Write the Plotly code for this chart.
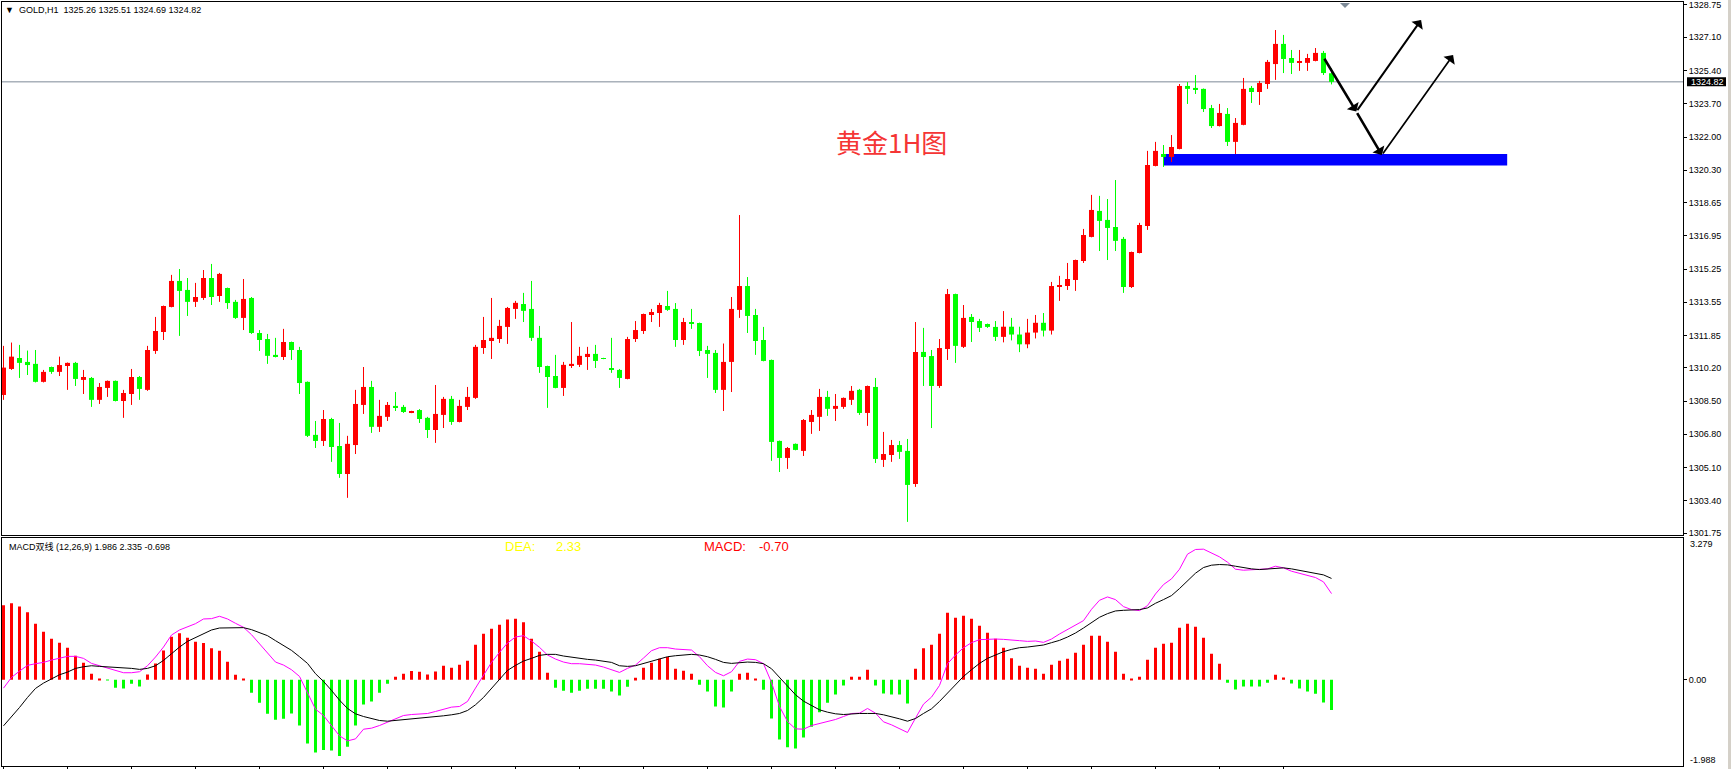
import plotly.graph_objects as go

# ---------------- data (GOLD, H1) ----------------
OPEN = [
    1308.81, 1310.14, 1310.70, 1310.50, 1310.40, 1309.48, 1310.24, 1309.99, 1310.29, 1310.45,
    1309.58, 1309.68, 1308.56, 1309.17, 1309.53, 1308.50, 1308.86, 1309.73, 1309.07, 1311.06,
    1312.03, 1313.31, 1314.64, 1314.18, 1313.57, 1313.77, 1314.79, 1313.87, 1314.28, 1313.57,
    1312.75, 1313.77, 1311.98, 1311.67, 1310.86, 1310.75, 1311.52, 1311.11, 1309.48, 1306.77,
    1306.46, 1307.58, 1306.20, 1304.77, 1306.25, 1308.30, 1309.22, 1307.18, 1307.69, 1308.25,
    1308.20, 1307.91, 1308.04, 1307.64, 1307.02, 1307.79, 1308.61, 1307.43, 1308.20, 1308.66,
    1311.21, 1311.57, 1311.67, 1312.29, 1313.21, 1313.46, 1313.21, 1311.73, 1310.29, 1309.78,
    1309.17, 1310.29, 1310.35, 1310.75, 1310.91, 1310.70, 1310.19, 1310.09, 1309.63, 1311.67,
    1312.08, 1312.90, 1313.00, 1313.36, 1313.21, 1311.62, 1312.54, 1312.49, 1311.11, 1310.96,
    1309.07, 1310.50, 1313.16, 1314.38, 1312.90, 1311.62, 1310.60, 1306.46, 1305.59, 1306.31,
    1305.95, 1307.43, 1307.69, 1308.71, 1308.10, 1308.20, 1308.56, 1309.07, 1307.89, 1309.22,
    1305.49, 1305.74, 1306.25, 1305.95, 1304.26, 1311.01, 1310.80, 1309.27, 1311.16, 1313.97,
    1311.27, 1312.80, 1312.59, 1312.44, 1312.29, 1311.78, 1312.30, 1311.90, 1311.40, 1312.00,
    1312.50, 1312.10, 1314.35, 1314.38, 1314.69, 1315.66, 1316.89, 1318.22, 1317.76, 1317.40,
    1316.79, 1314.33, 1316.07, 1317.45, 1320.52, 1321.13, 1320.98, 1321.39, 1324.61, 1324.51,
    1324.46, 1323.48, 1322.56, 1323.18, 1321.75, 1322.62, 1324.51, 1324.30, 1324.71, 1325.73,
    1326.76, 1326.04, 1325.79, 1325.79, 1325.89, 1326.30, 1325.26,
]
HIGH = [
    1311.32, 1311.49, 1311.37, 1311.08, 1311.11, 1310.09, 1310.26, 1310.77, 1310.47, 1310.50,
    1310.09, 1309.73, 1309.42, 1309.55, 1309.55, 1309.07, 1310.14, 1309.78, 1311.32, 1312.80,
    1313.38, 1314.95, 1315.25, 1314.79, 1314.54, 1315.20, 1315.51, 1315.05, 1314.30, 1313.67,
    1314.74, 1313.82, 1312.13, 1311.93, 1311.73, 1312.19, 1311.54, 1311.27, 1309.50, 1307.48,
    1308.04, 1307.64, 1307.38, 1306.72, 1309.07, 1310.24, 1309.53, 1308.56, 1308.45, 1308.96,
    1308.30, 1308.00, 1308.09, 1307.69, 1309.32, 1308.71, 1308.76, 1308.56, 1309.22, 1311.37,
    1312.80, 1313.77, 1312.65, 1313.31, 1313.62, 1314.03, 1314.64, 1312.34, 1310.31, 1310.86,
    1310.50, 1312.54, 1311.27, 1311.27, 1311.37, 1310.71, 1311.73, 1310.14, 1311.78, 1312.59,
    1312.97, 1313.21, 1313.52, 1314.13, 1313.51, 1312.75, 1313.21, 1312.51, 1311.32, 1311.11,
    1311.44, 1313.82, 1318.01, 1314.84, 1313.21, 1312.29, 1310.62, 1306.48, 1306.15, 1306.33,
    1307.58, 1308.04, 1309.12, 1309.02, 1308.86, 1308.68, 1309.27, 1309.12, 1309.29, 1309.68,
    1306.92, 1306.51, 1306.46, 1306.56, 1312.54, 1312.24, 1311.11, 1311.67, 1314.23, 1313.99,
    1313.41, 1312.95, 1312.70, 1312.46, 1312.59, 1313.10, 1312.75, 1312.30, 1312.70, 1312.90,
    1313.00, 1314.59, 1314.90, 1315.56, 1315.73, 1317.30, 1319.04, 1318.99, 1318.83, 1319.80,
    1316.89, 1316.14, 1317.61, 1321.29, 1321.75, 1321.59, 1322.10, 1324.71, 1324.81, 1325.17,
    1324.48, 1323.64, 1323.69, 1323.48, 1322.97, 1325.02, 1324.61, 1324.87, 1325.94, 1327.47,
    1327.22, 1326.45, 1326.45, 1326.25, 1326.55, 1326.40, 1325.51,
]
LOW = [
    1308.56, 1310.09, 1309.68, 1309.83, 1309.45, 1309.45, 1309.89, 1309.78, 1309.07, 1309.27,
    1308.86, 1308.20, 1308.35, 1308.71, 1308.48, 1307.64, 1308.30, 1308.56, 1309.02, 1310.91,
    1311.62, 1313.29, 1311.83, 1312.85, 1313.31, 1313.67, 1313.41, 1313.57, 1313.21, 1312.70,
    1312.13, 1311.93, 1311.06, 1310.40, 1310.73, 1310.60, 1310.60, 1308.86, 1306.66, 1306.10,
    1306.20, 1305.39, 1304.57, 1303.55, 1305.79, 1307.84, 1306.87, 1306.92, 1307.48, 1307.99,
    1307.89, 1307.88, 1307.38, 1306.61, 1306.36, 1307.12, 1307.28, 1307.41, 1308.04, 1308.61,
    1310.91, 1310.65, 1311.47, 1311.42, 1312.70, 1312.54, 1311.57, 1309.94, 1308.15, 1309.15,
    1308.76, 1310.19, 1310.24, 1310.09, 1310.19, 1310.64, 1309.94, 1309.17, 1309.61, 1311.52,
    1311.93, 1312.54, 1312.29, 1313.11, 1311.27, 1311.37, 1312.19, 1310.80, 1309.68, 1308.91,
    1307.99, 1308.96, 1312.75, 1311.98, 1310.86, 1310.53, 1305.44, 1304.87, 1305.03, 1305.98,
    1305.69, 1306.82, 1306.97, 1307.74, 1307.48, 1308.10, 1308.30, 1307.79, 1307.23, 1305.33,
    1305.13, 1305.39, 1305.54, 1302.32, 1304.11, 1309.27, 1307.12, 1309.17, 1310.60, 1310.45,
    1311.21, 1311.52, 1312.03, 1312.24, 1311.57, 1311.50, 1311.60, 1311.00, 1311.20, 1311.70,
    1311.80, 1311.90, 1313.62, 1314.18, 1314.13, 1315.56, 1316.87, 1316.17, 1315.71, 1316.17,
    1314.03, 1314.28, 1316.05, 1317.25, 1320.50, 1320.47, 1320.72, 1321.37, 1323.69, 1324.20,
    1323.28, 1322.46, 1322.54, 1321.54, 1321.13, 1322.60, 1323.74, 1323.64, 1324.46, 1324.92,
    1325.27, 1325.22, 1325.38, 1325.38, 1325.87, 1325.17, 1324.69,
]
CLOSE = [
    1310.21, 1310.77, 1310.45, 1310.34, 1309.48, 1309.99, 1309.99, 1310.34, 1310.45, 1309.63,
    1309.73, 1308.56, 1309.22, 1309.53, 1308.50, 1308.91, 1309.73, 1309.12, 1311.11, 1312.08,
    1313.36, 1314.64, 1314.13, 1313.57, 1313.82, 1314.79, 1313.82, 1315.00, 1313.51, 1312.75,
    1313.72, 1311.98, 1311.62, 1310.81, 1310.75, 1311.52, 1311.11, 1309.42, 1306.72, 1306.46,
    1307.58, 1306.15, 1304.77, 1306.31, 1308.35, 1309.22, 1307.18, 1307.74, 1308.30, 1308.15,
    1307.94, 1307.99, 1307.58, 1307.02, 1307.84, 1308.61, 1307.43, 1308.25, 1308.71, 1311.27,
    1311.62, 1311.73, 1312.34, 1313.26, 1313.52, 1313.11, 1311.73, 1310.24, 1309.73, 1309.17,
    1310.35, 1310.40, 1310.81, 1310.91, 1310.55, 1310.65, 1310.09, 1309.68, 1311.67, 1312.13,
    1312.95, 1313.05, 1313.41, 1313.16, 1311.62, 1312.54, 1312.44, 1311.06, 1310.91, 1309.07,
    1310.50, 1313.21, 1314.38, 1312.85, 1311.57, 1310.55, 1306.41, 1305.59, 1306.10, 1306.00,
    1307.53, 1307.79, 1308.71, 1308.10, 1308.25, 1308.66, 1309.02, 1307.89, 1309.27, 1305.54,
    1305.79, 1306.25, 1305.90, 1304.21, 1311.01, 1310.75, 1309.27, 1311.21, 1313.97, 1311.32,
    1312.75, 1312.54, 1312.24, 1312.29, 1311.78, 1312.30, 1311.90, 1311.40, 1312.00, 1312.50,
    1312.10, 1314.38, 1314.38, 1314.74, 1315.71, 1316.99, 1318.27, 1317.71, 1317.35, 1316.69,
    1314.33, 1316.12, 1317.50, 1320.57, 1321.29, 1320.98, 1321.49, 1324.61, 1324.46, 1324.41,
    1323.43, 1322.56, 1323.23, 1321.75, 1322.72, 1324.46, 1324.30, 1324.76, 1325.84, 1326.76,
    1325.99, 1325.79, 1325.84, 1326.04, 1326.30, 1325.27, 1324.82,
]

# MACD (12,26,9): DIF (magenta), DEA (black), MACD histogram
DIF = [
    -0.193, 0.054, 0.200, 0.331, 0.370, 0.400, 0.454, 0.493, 0.539, 0.539,
    0.493, 0.377, 0.323, 0.269, 0.200, 0.162, 0.162, 0.185, 0.323, 0.524,
    0.754, 1.031, 1.147, 1.224, 1.293, 1.401, 1.409, 1.463, 1.401, 1.301,
    1.209, 1.039, 0.831, 0.600, 0.408, 0.339, 0.231, 0.077, -0.285, -0.678,
    -0.824, -1.062, -1.293, -1.409, -1.363, -1.140, -1.116, -1.055, -0.978, -0.885,
    -0.824, -0.801, -0.785, -0.778, -0.731, -0.685, -0.631, -0.616, -0.500, -0.192,
    0.115, 0.400, 0.631, 0.847, 0.985, 1.016, 0.893, 0.747, 0.570, 0.477,
    0.408, 0.370, 0.370, 0.362, 0.339, 0.293, 0.231, 0.169, 0.262, 0.339,
    0.500, 0.670, 0.739, 0.739, 0.708, 0.701, 0.685, 0.531, 0.323, 0.169,
    0.092, 0.185, 0.424, 0.477, 0.462, 0.370, -0.062, -0.616, -0.962, -1.132,
    -1.139, -1.055, -1.008, -0.970, -0.916, -0.847, -0.778, -0.770, -0.662, -0.770,
    -0.970, -1.039, -1.124, -1.216, -0.885, -0.562, -0.400, -0.131, 0.370, 0.570,
    0.739, 0.855, 0.924, 0.939, 0.939, 0.931, 0.924, 0.901, 0.885, 0.893,
    0.862, 0.939, 1.055, 1.163, 1.255, 1.363, 1.624, 1.832, 1.909, 1.847,
    1.686, 1.617, 1.594, 1.709, 1.978, 2.194, 2.325, 2.548, 2.895, 3.003,
    3.010, 2.925, 2.833, 2.710, 2.548, 2.525, 2.540, 2.540, 2.556, 2.617,
    2.579, 2.502, 2.448, 2.395, 2.356, 2.256, 1.986,
]
DEA = [
    -1.062, -0.862, -0.639, -0.408, -0.200, -0.077, 0.015, 0.115, 0.177, 0.262,
    0.300, 0.323, 0.308, 0.300, 0.293, 0.285, 0.262, 0.239, 0.262, 0.323,
    0.446, 0.600, 0.754, 0.885, 0.970, 1.070, 1.147, 1.193, 1.201, 1.201,
    1.201, 1.155, 1.093, 1.016, 0.901, 0.785, 0.677, 0.531, 0.377, 0.139,
    -0.038, -0.246, -0.470, -0.662, -0.785, -0.847, -0.901, -0.939, -0.955, -0.939,
    -0.924, -0.908, -0.885, -0.870, -0.855, -0.831, -0.808, -0.777, -0.708, -0.577,
    -0.408, -0.200, 0.015, 0.216, 0.331, 0.431, 0.493, 0.562, 0.585, 0.585,
    0.547, 0.516, 0.493, 0.470, 0.454, 0.431, 0.400, 0.323, 0.308, 0.323,
    0.377, 0.431, 0.477, 0.531, 0.554, 0.562, 0.585, 0.570, 0.531, 0.470,
    0.400, 0.377, 0.400, 0.408, 0.400, 0.370, 0.254, 0.062, -0.154, -0.346,
    -0.493, -0.601, -0.693, -0.747, -0.785, -0.801, -0.785, -0.777, -0.777, -0.777,
    -0.808, -0.847, -0.901, -0.955, -0.893, -0.777, -0.670, -0.500, -0.308, -0.100,
    0.077, 0.231, 0.377, 0.493, 0.570, 0.647, 0.700, 0.739, 0.754, 0.770,
    0.801, 0.855, 0.908, 0.985, 1.078, 1.193, 1.316, 1.440, 1.524, 1.586,
    1.601, 1.609, 1.617, 1.655, 1.763, 1.848, 1.940, 2.102, 2.279, 2.456,
    2.587, 2.641, 2.656, 2.648, 2.617, 2.579, 2.556, 2.540, 2.556, 2.579,
    2.579, 2.556, 2.517, 2.487, 2.456, 2.417, 2.335,
]
HIST = [
    1.717, 1.763, 1.686, 1.555, 1.293, 1.109, 0.947, 0.855, 0.739, 0.554,
    0.393, 0.139, 0.031, -0.015, -0.185, -0.200, -0.092, -0.154, 0.123, 0.377,
    0.677, 0.993, 1.070, 0.970, 0.878, 0.847, 0.724, 0.670, 0.416, 0.115,
    0.031, -0.300, -0.531, -0.785, -0.924, -0.901, -0.778, -1.055, -1.470, -1.678,
    -1.617, -1.632, -1.755, -1.547, -1.055, -0.570, -0.500, -0.300, -0.092, 0.069,
    0.139, 0.200, 0.185, 0.123, 0.192, 0.323, 0.277, 0.346, 0.439, 0.808,
    1.062, 1.178, 1.270, 1.386, 1.409, 1.324, 0.947, 0.647, 0.162, -0.185,
    -0.254, -0.300, -0.254, -0.208, -0.208, -0.208, -0.269, -0.362, -0.162, 0.046,
    0.277, 0.393, 0.485, 0.523, 0.254, 0.208, 0.139, -0.115, -0.269, -0.616,
    -0.639, -0.269, 0.139, 0.162, 0.031, -0.231, -0.893, -1.378, -1.555, -1.586,
    -1.332, -1.085, -0.747, -0.531, -0.339, -0.131, 0.069, 0.069, 0.231, -0.131,
    -0.316, -0.339, -0.339, -0.547, 0.254, 0.724, 0.808, 1.062, 1.547, 1.432,
    1.478, 1.409, 1.247, 1.085, 0.947, 0.739, 0.493, 0.323, 0.277, 0.254,
    0.139, 0.346, 0.439, 0.485, 0.624, 0.808, 1.016, 1.016, 0.878, 0.647,
    0.139, 0.010, 0.069, 0.462, 0.739, 0.831, 0.855, 1.201, 1.293, 1.224,
    0.970, 0.600, 0.370, -0.069, -0.223, -0.154, -0.154, -0.154, -0.069, 0.115,
    0.054, -0.085, -0.200, -0.269, -0.323, -0.523, -0.698,
]

PRICE_TICKS = [1328.75, 1327.10, 1325.40, 1323.70, 1322.00, 1320.30, 1318.65, 1316.95,
               1315.25, 1313.55, 1311.85, 1310.20, 1308.50, 1306.80, 1305.10, 1303.40, 1301.75]
PRICE_RANGE = [1301.65, 1328.903]
MACD_RANGE = [-1.988, 3.279]
TIME_TICKS = list(range(0, 161, 8))

HEADER = "GOLD,H1\u00a0\u00a01325.26 1325.51 1324.69 1324.82"
MACD_HEADER = "MACD双线 (12,26,9) 1.986 2.335 -0.698"
TITLE = "黄金1H图"

# drawn objects: support zone and projected path arrows (bar index, price)
ZONE = dict(x0=144.96, x1=187.96, y0=1320.54, y1=1321.13)
ARROWS = [  # (start, end, line width)
    ((165.0, 1326.08), (169.1, 1323.30), 2.6),
    ((169.1, 1323.30), (177.2, 1327.98), 2.0),
    ((169.1, 1323.30), (172.3, 1321.08), 2.6),
    ((172.3, 1321.08), (181.2, 1326.19), 1.7),
]

# ---------------- figure ----------------
W, H = 1731, 769
RED, GREEN = "#FF0000", "#00FF00"
FONT = "Liberation Sans, Arial, Noto Sans CJK SC, sans-serif"


def fx(p):
    return p / W


def fy(p):
    return 1 - p / H


n = len(CLOSE)
idx = list(range(n))
up = [i for i in idx if CLOSE[i] >= OPEN[i]]
dn = [i for i in idx if CLOSE[i] < OPEN[i]]


def wick_xy(ids):
    xs, ys = [], []
    for i in ids:
        xs += [i, i, None]
        ys += [LOW[i], HIGH[i], None]
    return xs, ys


def body(ids):
    base = [min(OPEN[i], CLOSE[i]) for i in ids]
    hgt = [max(abs(CLOSE[i] - OPEN[i]), 0.05) for i in ids]
    return base, hgt


fig = go.Figure()
for ids, col in ((up, RED), (dn, GREEN)):
    wx, wy = wick_xy(ids)
    fig.add_trace(go.Scatter(x=wx, y=wy, mode="lines", line=dict(color=col, width=1),
                             hoverinfo="skip", showlegend=False, xaxis="x", yaxis="y"))
    b, h = body(ids)
    fig.add_trace(go.Bar(x=ids, y=h, base=b, width=0.625, marker=dict(color=col, line=dict(width=0)),
                         hoverinfo="skip", showlegend=False, xaxis="x", yaxis="y"))

hp = [i for i in idx if HIST[i] >= 0]
hn = [i for i in idx if HIST[i] < 0]
fig.add_trace(go.Bar(x=hp, y=[HIST[i] for i in hp], width=0.375, marker=dict(color=RED, line=dict(width=0)),
                     showlegend=False, hoverinfo="skip", xaxis="x2", yaxis="y2"))
fig.add_trace(go.Bar(x=hn, y=[HIST[i] for i in hn], width=0.375, marker=dict(color=GREEN, line=dict(width=0)),
                     showlegend=False, hoverinfo="skip", xaxis="x2", yaxis="y2"))
fig.add_trace(go.Scatter(x=idx, y=DIF, mode="lines", line=dict(color="#FF00FF", width=1),
                         showlegend=False, hoverinfo="skip", xaxis="x2", yaxis="y2"))
fig.add_trace(go.Scatter(x=idx, y=DEA, mode="lines", line=dict(color="#000000", width=1),
                         showlegend=False, hoverinfo="skip", xaxis="x2", yaxis="y2"))

XDOM = [fx(2), fx(1683)]
XRANGE = [-0.1875, -0.1875 + 1681 / 8]
axis_common = dict(showgrid=False, zeroline=False, showline=True, mirror=True,
                   linecolor="black", linewidth=1, fixedrange=True, automargin=False)

shapes = [
    dict(type="rect", xref="x", yref="y", layer="below", line=dict(width=0), fillcolor="#0000FF", **ZONE),
    dict(type="line", xref="paper", yref="y", x0=XDOM[0], x1=XDOM[1], y0=CLOSE[-1], y1=CLOSE[-1],
         line=dict(color="#7d8a97", width=1), layer="below"),
    dict(type="rect", xref="paper", yref="y", x0=fx(1687), x1=fx(1726),
         y0=CLOSE[-1] - 0.23, y1=CLOSE[-1] + 0.23, fillcolor="black", line=dict(width=0)),
    dict(type="path", xref="paper", yref="paper",
         path=f"M {fx(1340)} {fy(3)} L {fx(1350)} {fy(3)} L {fx(1345)} {fy(8)} Z",
         fillcolor="#7d8a97", line=dict(width=0)),
    dict(type="rect", xref="paper", yref="paper", x0=fx(1728), x1=1, y0=0, y1=1,
         fillcolor="#d4d0c8", line=dict(width=0)),
]

annotations = [
    dict(text="▼", xref="paper", yref="paper", x=fx(9), y=fy(10), showarrow=False,
         font=dict(size=9, color="black", family=FONT), xanchor="center", yanchor="middle"),
    dict(text=HEADER, xref="paper", yref="paper", x=fx(17), y=fy(10), showarrow=False,
         font=dict(size=9, color="black", family=FONT), xanchor="left", yanchor="middle"),
    dict(text=TITLE, xref="paper", yref="paper", x=fx(891), y=fy(142), showarrow=False,
         font=dict(size=26, color="#F53535", family="Noto Sans CJK SC"), xanchor="center", yanchor="middle"),
    dict(text=MACD_HEADER, xref="paper", yref="paper", x=fx(7), y=fy(546), showarrow=False,
         font=dict(size=9, color="black", family=FONT), xanchor="left", yanchor="middle"),
    dict(text="DEA:", xref="paper", yref="paper", x=fx(503), y=fy(546), showarrow=False,
         font=dict(size=13, color="#FFFF00", family=FONT), xanchor="left", yanchor="middle"),
    dict(text=f"{DEA[-1]:.2f}", xref="paper", yref="paper", x=fx(554), y=fy(546), showarrow=False,
         font=dict(size=13, color="#FFFF00", family=FONT), xanchor="left", yanchor="middle"),
    dict(text="MACD:", xref="paper", yref="paper", x=fx(702), y=fy(546), showarrow=False,
         font=dict(size=13, color="#FF0000", family=FONT), xanchor="left", yanchor="middle"),
    dict(text=f"{HIST[-1]:.2f}", xref="paper", yref="paper", x=fx(757), y=fy(546), showarrow=False,
         font=dict(size=13, color="#FF0000", family=FONT), xanchor="left", yanchor="middle"),
    dict(text=f"{MACD_RANGE[1]:.3f}", xref="paper", yref="paper", x=fx(1688), y=fy(544), showarrow=False,
         font=dict(size=9, color="black", family=FONT), xanchor="left", yanchor="middle"),
    dict(text=f"{MACD_RANGE[0]:.3f}", xref="paper", yref="paper", x=fx(1688), y=fy(760), showarrow=False,
         font=dict(size=9, color="black", family=FONT), xanchor="left", yanchor="middle"),
    dict(text=f"{CLOSE[-1]:.2f}", xref="paper", yref="y", x=fx(1689), y=CLOSE[-1], showarrow=False,
         font=dict(size=9, color="white", family=FONT), xanchor="left", yanchor="middle"),
]
for (sx, sy), (ex, ey), lw in ARROWS:
    annotations.append(dict(x=ex, y=ey, ax=sx, ay=sy, xref="x", yref="y", axref="x", ayref="y",
                            text="", showarrow=True, arrowhead=1, arrowwidth=lw,
                            arrowsize=2.3 / lw, arrowcolor="black"))

fig.update_layout(
    width=W, height=H, margin=dict(l=0, r=0, t=0, b=0),
    paper_bgcolor="white", plot_bgcolor="white",
    barmode="overlay", hovermode=False, showlegend=False,
    font=dict(family=FONT, size=9, color="black"),
    xaxis=dict(domain=XDOM, range=XRANGE, anchor="y", showticklabels=False, ticks="", **axis_common),
    yaxis=dict(domain=[fy(535), fy(2)], range=PRICE_RANGE, anchor="x", side="right",
               tickvals=PRICE_TICKS, ticktext=[f"{v:.2f}" for v in PRICE_TICKS],
               ticks="outside", ticklen=3, tickcolor="black", tickfont=dict(size=9, family=FONT),
               **axis_common),
    xaxis2=dict(domain=XDOM, range=XRANGE, anchor="y2", showticklabels=False, ticks="outside",
                tickvals=TIME_TICKS, ticklen=3, tickcolor="black", **axis_common),
    yaxis2=dict(domain=[fy(766), fy(537.5)], range=MACD_RANGE, anchor="x2", side="right",
                tickvals=[0], ticktext=["0.00"], ticks="outside", ticklen=3, tickcolor="black",
                tickfont=dict(size=9, family=FONT), **axis_common),
    shapes=shapes, annotations=annotations,
)

fig.write_html("out.html")
